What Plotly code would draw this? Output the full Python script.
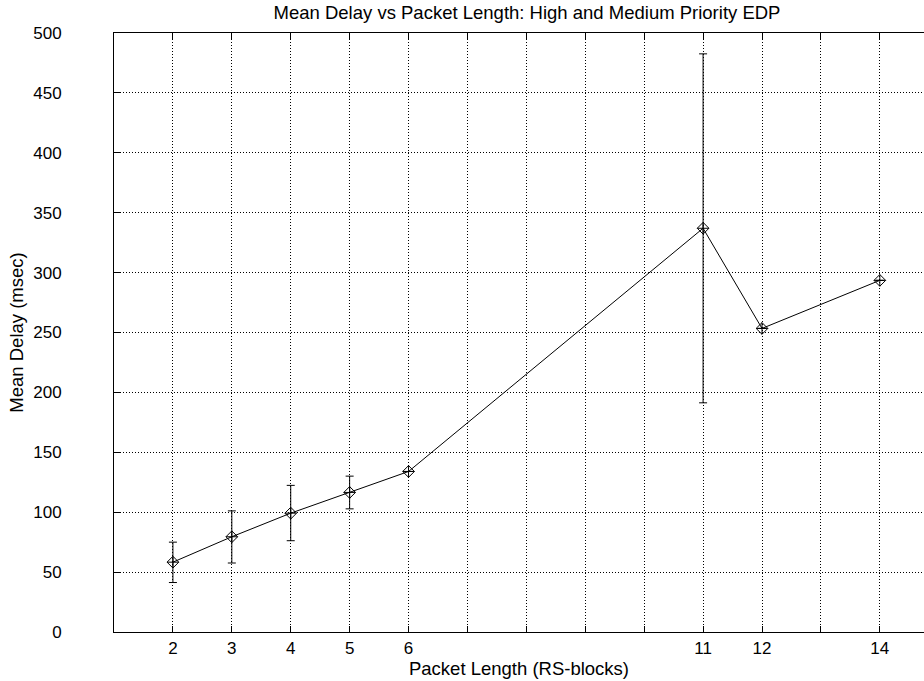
import plotly.graph_objects as go

packet_length = [2, 3, 4, 5, 6, 11, 12, 14]
mean_delay = [58.3, 79.5, 99.2, 116.5, 134.0, 337.0, 253.4, 293.5]
delay_upper = [75.0, 101.1, 122.4, 130.1, None, 482.6, None, None]
delay_lower = [41.3, 57.6, 76.2, 102.8, None, 191.3, None, None]

x_tick_vals = list(range(2, 15))
x_tick_labeled = [2, 3, 4, 5, 6, 11, 12, 14]
y_tick_vals = list(range(0, 501, 50))

err_plus = [(u - m) if u is not None else None for u, m in zip(delay_upper, mean_delay)]
err_minus = [(m - l) if l is not None else None for l, m in zip(delay_lower, mean_delay)]

font_family = "Liberation Sans, Arial, sans-serif"
tick_font = dict(family=font_family, size=17, color="black")
label_font = dict(family=font_family, size=18.5, color="black")

fig = go.Figure()
fig.add_trace(go.Scatter(
    x=packet_length, y=mean_delay,
    mode="lines+markers",
    line=dict(color="black", width=1),
    marker=dict(symbol="diamond-cross-open", size=9, color="black", line=dict(width=1, color="black")),
    error_y=dict(type="data", symmetric=False, array=err_plus, arrayminus=err_minus,
                 color="black", thickness=1, width=4),
    showlegend=False,
))

axis_common = dict(
    showline=True, linecolor="black", linewidth=1,
    ticks="inside", ticklen=6, tickcolor="black", tickwidth=1,
    showgrid=True, gridcolor="black", gridwidth=1, griddash="1px,2px",
    zeroline=False,
    tickfont=tick_font,
)

fig.update_xaxes(
    range=[1, 14.75],
    tickvals=x_tick_vals,
    ticktext=[str(v) if v in x_tick_labeled else "" for v in x_tick_vals],
    mirror="ticks",
    ticklabelstandoff=1,
    title=dict(text="Packet Length (RS-blocks)", font=label_font, standoff=0),
    **axis_common,
)
fig.update_yaxes(
    range=[0, 500],
    tickvals=y_tick_vals,
    mirror=False,
    ticklabelstandoff=48,
    title=dict(text="Mean Delay (msec)", font=label_font, standoff=4),
    **axis_common,
)

fig.update_layout(
    width=924, height=681,
    margin=dict(l=114, r=0, t=33, b=49),
    paper_bgcolor="white", plot_bgcolor="white",
    title=dict(text="Mean Delay vs Packet Length: High and Medium Priority EDP",
               x=527 / 924, xanchor="center", xref="container",
               y=1 - 13 / 681, yanchor="middle", yref="container",
               font=label_font),
)

fig.write_html("out.html")
